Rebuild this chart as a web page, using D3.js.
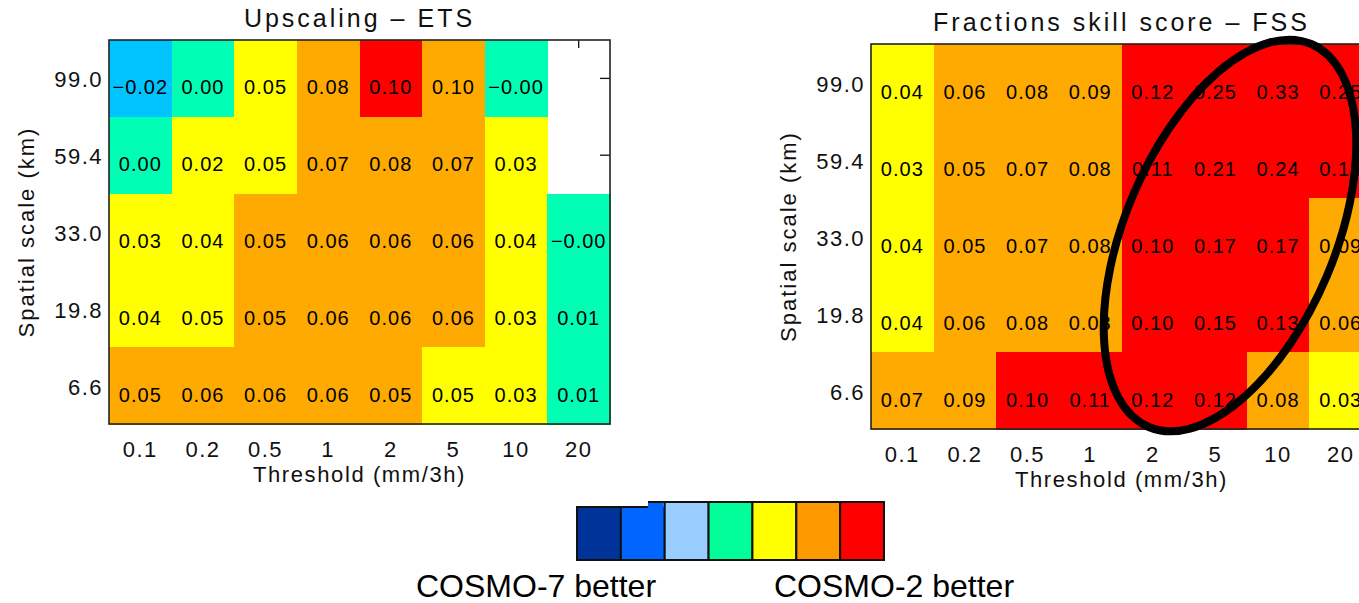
<!DOCTYPE html>
<html>
<head>
<meta charset="utf-8">
<script src="https://cdn.jsdelivr.net/npm/d3@7"></script>
<style>
  html, body { margin: 0; padding: 0; background: #fff; }
  svg { display: block; }
</style>
</head>
<body>
<svg id="chart" width="1359" height="603"></svg>
<script>
// Precipitation thresholds (columns) and spatial scales (rows, top to bottom)
const thresholds = ["0.1", "0.2", "0.5", "1", "2", "5", "10", "20"];
const spatialScales = ["99.0", "59.4", "33.0", "19.8", "6.6"];

// Score differences COSMO-2 minus COSMO-7; null = no data
const etsValues = [
  [-0.020, 0.002, 0.049, 0.080, 0.101, 0.099, -0.002, null],
  [ 0.001, 0.020, 0.049, 0.070, 0.080, 0.070,  0.030, null],
  [ 0.030, 0.040, 0.051, 0.060, 0.060, 0.060,  0.040, -0.003],
  [ 0.040, 0.049, 0.051, 0.060, 0.060, 0.060,  0.030, 0.010],
  [ 0.051, 0.060, 0.060, 0.060, 0.052, 0.048,  0.030, 0.010]
];
const fssValues = [
  [0.040, 0.060, 0.080, 0.090, 0.120, 0.250, 0.330, 0.250],
  [0.030, 0.051, 0.070, 0.080, 0.110, 0.210, 0.240, 0.160],
  [0.040, 0.051, 0.070, 0.080, 0.101, 0.170, 0.170, 0.090],
  [0.040, 0.060, 0.080, 0.080, 0.101, 0.150, 0.130, 0.060],
  [0.070, 0.090, 0.101, 0.110, 0.120, 0.120, 0.080, 0.030]
];

// Colour classes for the score differences
const skillBreaks = [-0.01, 0.015, 0.05, 0.1];
const skillColors = ["#00c3ff", "#00ffb4", "#ffff00", "#ffaa00", "#ff0000"];

// Legend bar
const legendColors = ["#003399", "#0066ff", "#99ccff", "#00ff99", "#ffff00", "#ff9900", "#ff0000"];
const legendLabels = ["COSMO-7 better", "COSMO-2 better"];

const panelTitles = ["Upscaling \u2013 ETS", "Fractions skill score \u2013 FSS"];
const xAxisTitle = "Threshold (mm/3h)";
const yAxisTitle = "Spatial scale (km)";

const FONT = "'Liberation Sans', Arial, sans-serif";
const svg = d3.select("#chart");
const color = d3.scaleThreshold().domain(skillBreaks).range(skillColors);
// two decimals, keeping the sign of small negative values ("-0.00")
const fmt2 = d3.format(".2f");
const fmt = v => (v < 0 ? "\u2212" : "") + fmt2(Math.abs(v));

function drawPanel(values, title, box) {
  const w = box.width, h = box.height;
  const g = svg.append("g").attr("transform", `translate(${box.left},${box.top})`);
  const x = d3.scaleBand().domain(thresholds).range([0, w]);
  const y = d3.scaleBand().domain(spatialScales).range([0, h]);

  const styleAxis = sel => {
    sel.select(".domain").remove();
    sel.selectAll(".tick line").attr("stroke", "#111").attr("stroke-width", 1.3);
    sel.selectAll("text").attr("font-family", FONT).attr("font-size", 22)
      .attr("letter-spacing", 1.5).attr("fill", "#111");
  };

  // inward ticks on all four sides
  g.append("g").attr("transform", `translate(0,${h})`)
    .call(d3.axisBottom(x).tickSizeInner(-8).tickSizeOuter(0))
    .call(styleAxis)
    .call(s => s.selectAll("text").attr("y", 33).attr("dy", null));
  g.append("g")
    .call(d3.axisTop(x).tickSizeInner(-8).tickSizeOuter(0).tickFormat(""))
    .call(styleAxis);
  g.append("g")
    .call(d3.axisLeft(y).tickSizeInner(-10).tickSizeOuter(0).tickPadding(6))
    .call(styleAxis)
    .call(s => s.selectAll("text").attr("dy", null).attr("y", 9));
  g.append("g").attr("transform", `translate(${w},0)`)
    .call(d3.axisRight(y).tickSizeInner(-10).tickSizeOuter(0).tickFormat(""))
    .call(styleAxis);

  const cells = [];
  values.forEach((row, r) => row.forEach((v, c) => {
    if (v !== null) cells.push({ r: spatialScales[r], c: thresholds[c], v });
  }));

  g.append("g").attr("shape-rendering", "crispEdges")
    .selectAll("rect").data(cells).join("rect")
    .attr("x", d => x(d.c)).attr("y", d => y(d.r))
    .attr("width", x.bandwidth() + 0.5).attr("height", y.bandwidth() + 0.5)
    .attr("fill", d => color(d.v));

  g.append("rect").attr("width", w).attr("height", h)
    .attr("fill", "none").attr("stroke", "#222").attr("stroke-width", 1.6);

  g.append("g").selectAll("text").data(cells).join("text")
    .attr("x", d => x(d.c) + x.bandwidth() / 2)
    .attr("y", d => y(d.r) + y.bandwidth() / 2 + 16)
    .attr("text-anchor", "middle")
    .attr("font-family", FONT).attr("font-size", 20).attr("letter-spacing", 1)
    .attr("fill", "#000")
    .text(d => fmt(d.v));

  g.append("text").attr("x", w / 2).attr("y", -13)
    .attr("text-anchor", "middle").attr("font-family", FONT)
    .attr("font-size", 25).attr("letter-spacing", 3).attr("fill", "#111")
    .text(title);

  g.append("text").attr("x", w / 2).attr("y", h + 58)
    .attr("text-anchor", "middle").attr("font-family", FONT)
    .attr("font-size", 22).attr("letter-spacing", 1.6).attr("fill", "#111")
    .text(xAxisTitle);

  g.append("text").attr("transform", `translate(-75,${h / 2}) rotate(-90)`)
    .attr("text-anchor", "middle").attr("font-family", FONT)
    .attr("font-size", 22).attr("letter-spacing", 2).attr("fill", "#111")
    .text(yAxisTitle);
}

drawPanel(etsValues, panelTitles[0], { left: 109, top: 40, width: 501, height: 384 });
drawPanel(fssValues, panelTitles[1], { left: 871, top: 44, width: 501, height: 385 });

// highlight around the largest FSS gains
svg.append("ellipse")
  .attr("transform", "translate(1230,235.5) rotate(23)")
  .attr("rx", 105).attr("ry", 208)
  .attr("fill", "none").attr("stroke", "#000").attr("stroke-width", 8);

// legend bar
const lx = d3.scaleBand().domain(legendColors).range([577, 884]);
const lg = svg.append("g");
lg.selectAll("rect").data(legendColors).join("rect")
  .attr("x", d => lx(d)).attr("width", lx.bandwidth())
  .attr("y", (d, i) => i < 2 ? 507 : 502)
  .attr("height", (d, i) => i < 2 ? 53 : 58)
  .attr("fill", d => d).attr("stroke", "#111").attr("stroke-width", 2);
// small raised corner on the second swatch
const cornerX = 648, nextX = lx(legendColors[2]);
lg.append("rect")
  .attr("x", cornerX).attr("y", 502).attr("width", nextX - cornerX - 1).attr("height", 6)
  .attr("fill", legendColors[1]);
lg.append("line")
  .attr("x1", cornerX).attr("x2", nextX).attr("y1", 502).attr("y2", 502)
  .attr("stroke", "#111").attr("stroke-width", 2);

svg.append("g").selectAll("text").data(legendLabels).join("text")
  .attr("x", (d, i) => i === 0 ? 416 : 774).attr("y", 597)
  .attr("font-family", FONT).attr("font-size", 32).attr("fill", "#000")
  .text(d => d);
</script>
</body>
</html>
